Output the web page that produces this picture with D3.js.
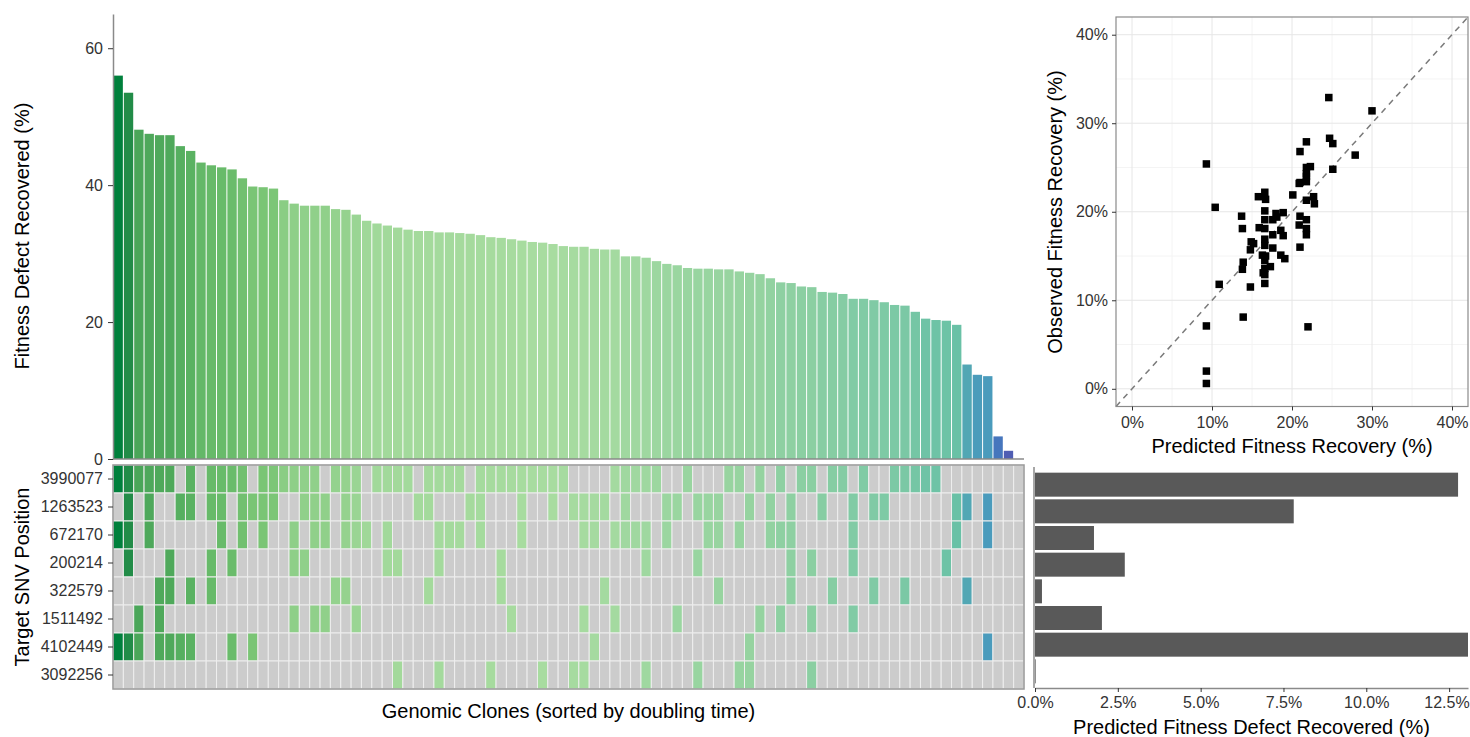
<!DOCTYPE html>
<html>
<head>
<meta charset="utf-8">
<script src="https://cdn.jsdelivr.net/npm/d3@7"></script>
<style>
body { margin: 0; background: #fff; }
text { font-family: "Liberation Sans", Arial, Helvetica, sans-serif; }
</style>
</head>
<body>
<svg id="chart" width="1470" height="737"></svg>
<script>
// fitness defect recovered per genomic clone, sorted by doubling time (last clone has no bar)
var recovered = [56.0, 53.5, 48.1, 47.5, 47.3, 47.3, 45.7, 45.0, 43.3, 42.9,
    42.6, 42.3, 41.0, 39.8, 39.7, 39.5, 37.8, 37.3, 37.0, 37.0,
    37.0, 36.5, 36.4, 35.7, 34.8, 34.4, 34.1, 33.8, 33.5, 33.3,
    33.3, 33.1, 33.1, 33.0, 32.9, 32.7, 32.4, 32.3, 32.1, 31.9,
    31.7, 31.6, 31.4, 31.1, 31.0, 31.0, 30.7, 30.6, 30.6, 29.6,
    29.6, 29.4, 28.9, 28.5, 28.3, 27.9, 27.8, 27.8, 27.7, 27.7,
    27.4, 27.2, 27.0, 26.4, 25.8, 25.7, 25.2, 25.1, 24.4, 24.3,
    24.1, 23.4, 23.4, 23.2, 22.9, 22.5, 22.4, 21.5, 20.5, 20.3,
    20.2, 19.6, 13.8, 12.3, 12.1, 3.3, 1.2, 0];

var snvPositions = ['3990077', '1263523', '672170', '200214', '322579', '1511492', '4102449', '3092256'];

// clones (0-based column index) carrying each SNV, same order as snvPositions
var snvHits = [
    [0,1,2,3,4,5,7,9,10,11,12,14,15,16,17,18,19,21,22,23,25,26,27,28,30,31,32,33,35,36,37,38,39,40,41,42,43,48,49,50,51,52,55,59,60,62,64,66,67,69,70,72,75,76,77,78,79],
    [1,3,6,7,9,10,12,13,14,15,18,19,20,22,23,29,30,34,35,39,42,44,45,46,47,49,53,54,56,57,58,61,63,65,68,71,73,74,81,82,84],
    [0,1,3,10,12,14,17,19,20,22,23,24,26,31,32,33,35,39,45,46,48,49,50,51,53,57,58,60,63,64,65,71,81,84],
    [1,5,9,11,17,18,26,27,31,37,51,56,65,67,71,80],
    [4,5,7,9,21,22,30,37,47,58,65,69,73,76,82],
    [2,4,17,19,20,23,38,45,48,54,62,64,67,71],
    [0,1,2,4,5,6,7,11,13,46,61,84],
    [27,31,36,41,44,45,51,56,60,61,67]
];

var snvPredicted = [12.77, 7.81, 1.78, 2.71, 0.21, 2.02, 13.07, 0.02];

var predictedRecovery = [24.6, 30.0, 21.8, 21.0, 24.7, 25.1, 27.9, 9.3, 21.8, 22.3,
    25.1, 21.8, 20.9, 21.8, 20.1, 15.8, 16.6, 16.7, 10.4, 21.8,
    22.7, 22.8, 13.7, 13.8, 16.6, 16.6, 18.0, 18.9, 17.6, 21.0,
    20.9, 21.8, 21.8, 15.9, 16.6, 18.6, 17.6, 18.9, 21.8, 14.9,
    15.2, 16.6, 16.6, 14.8, 17.6, 21.0, 16.3, 18.6, 19.1, 16.6,
    13.9, 17.3, 13.8, 16.6, 16.6, 16.6, 10.9, 14.8, 13.9, 9.3,
    22.0, 9.3, 9.3, 16.7, 16.4, 18.1, 21.8, 21.0];
var observedRecovery = [32.9, 31.4, 27.9, 26.8, 28.3, 27.7, 26.4, 25.4, 25.0, 25.1,
    24.8, 24.0, 23.2, 23.4, 21.9, 21.7, 22.2, 21.4, 20.5, 21.3,
    21.7, 20.9, 19.5, 18.1, 20.1, 19.1, 19.8, 19.9, 19.1, 19.5,
    18.5, 19.1, 18.1, 18.2, 18.1, 17.9, 17.4, 17.3, 17.4, 16.6,
    16.4, 16.9, 16.2, 15.7, 15.9, 16.0, 15.1, 15.1, 14.7, 14.5,
    14.3, 13.8, 13.5, 13.6, 12.9, 11.9, 11.8, 11.5, 8.1, 7.1,
    7.0, 2.0, 0.6, 15.0, 13.1, 19.4, 24.3, 23.3];

var recoveredTicks = [0, 20, 40, 60];
var scatterTicks = [0, 10, 20, 30, 40];
var scatterMinor = [5, 15, 25, 35];
var snvTicks = [0, 2.5, 5, 7.5, 10, 12.5];

var colorStops = [1.2, 3.3, 12.1, 13.8, 19.6, 23, 27, 31.5, 35, 40, 45, 48, 53.5, 56];
var colorRange = ['#4f5db3', '#4676bd', '#4a9bbc', '#52a7b4', '#69c1a6', '#7fcaa5', '#95d3a0', '#a8dca0',
    '#a0d899', '#78c473', '#5ab262', '#4ba659', '#228c48', '#00803c'];

var svg = d3.select('#chart');
var tickColor = '#333';
var axisColor = '#8a8a8a';

var clones = d3.range(recovered.length);
var x = d3.scaleBand().domain(clones).range([113, 1024]);
var y = d3.scaleLinear().domain([0, 65]).range([459, 14]);
var color = d3.scaleLinear().domain(colorStops).range(colorRange).clamp(true);

function styleAxis(g) {
    g.selectAll('text').style('font-size', '16px').attr('fill', tickColor);
    g.selectAll('line').attr('stroke', '#333');
    g.select('.domain').attr('stroke', axisColor).attr('stroke-width', 1.5);
}

// ---- top bar chart
svg.append('g').selectAll('rect')
    .data(clones.filter(function(i) { return recovered[i] > 0; }))
    .enter().append('rect')
    .attr('x', function(i) { return x(i) + 0.5; })
    .attr('width', x.bandwidth() - 1)
    .attr('y', function(i) { return y(recovered[i]); })
    .attr('height', function(i) { return y(0) - y(recovered[i]); })
    .attr('fill', function(i) { return color(recovered[i]); });

svg.append('g').attr('transform', 'translate(113,0)')
    .call(d3.axisLeft(y).tickValues(recoveredTicks).tickSize(5).tickSizeOuter(0).tickPadding(5))
    .call(styleAxis);
svg.append('line').attr('x1', 113).attr('x2', 1024).attr('y1', y(0)).attr('y2', y(0))
    .attr('stroke', axisColor).attr('stroke-width', 1.5);

svg.append('text').attr('transform', 'translate(29,236) rotate(-90)')
    .attr('text-anchor', 'middle').style('font-size', '20px').text('Fitness Defect Recovered (%)');

// ---- heatmap
var rowY = d3.scaleBand().domain(snvPositions).range([465, 689]);
var cells = [];
snvPositions.forEach(function(p, r) {
    clones.forEach(function(i) {
        cells.push({ snv: p, clone: i, hit: snvHits[r].indexOf(i) >= 0 });
    });
});
svg.append('g').selectAll('rect').data(cells).enter().append('rect')
    .attr('x', function(d) { return x(d.clone); })
    .attr('y', function(d) { return rowY(d.snv); })
    .attr('width', x.bandwidth())
    .attr('height', rowY.bandwidth())
    .attr('fill', function(d) { return d.hit ? color(recovered[d.clone]) : '#cccccc'; })
    .attr('stroke', '#eeeeee').attr('stroke-width', 1);
svg.append('rect').attr('x', 113).attr('y', 465).attr('width', 911).attr('height', 224)
    .attr('fill', 'none').attr('stroke', '#999').attr('stroke-width', 1.5);
svg.append('g').attr('transform', 'translate(113,0)')
    .call(d3.axisLeft(rowY).tickSize(5).tickSizeOuter(0).tickPadding(5))
    .call(styleAxis)
    .call(function(g) { g.select('.domain').remove(); });

svg.append('text').attr('transform', 'translate(29,577) rotate(-90)')
    .attr('text-anchor', 'middle').style('font-size', '20px').text('Target SNV Position');
svg.append('text').attr('x', 568.5).attr('y', 718)
    .attr('text-anchor', 'middle').style('font-size', '20px').text('Genomic Clones (sorted by doubling time)');

// ---- per-SNV predicted bars
var sx = d3.scaleLinear().domain([0, 13.07]).range([1035, 1468]);
var sy = d3.scaleBand().domain(snvPositions).range([470, 686]).padding(0.1);
svg.append('g').selectAll('rect').data(snvPositions).enter().append('rect')
    .attr('x', sx(0))
    .attr('y', function(d) { return sy(d); })
    .attr('height', sy.bandwidth())
    .attr('width', function(d, i) { return sx(snvPredicted[i]) - sx(0); })
    .attr('fill', '#595959');
svg.append('line').attr('x1', 1034).attr('x2', 1034).attr('y1', 467).attr('y2', 688)
    .attr('stroke', axisColor).attr('stroke-width', 1.5);
svg.append('g').attr('transform', 'translate(0,688)')
    .call(d3.axisBottom(sx).tickValues(snvTicks).tickSize(4).tickSizeOuter(0).tickPadding(5)
        .tickFormat(function(d) { return d.toFixed(1) + '%'; }))
    .call(styleAxis)
    .call(function(g) {
        // keep the last label inside the page
        g.selectAll('text').filter(function(d) { return d === 12.5; })
            .attr('text-anchor', 'end').attr('dx', '20px');
    });
svg.append('text').attr('x', 1251.5).attr('y', 734)
    .attr('text-anchor', 'middle').style('font-size', '20px').text('Predicted Fitness Defect Recovered (%)');

// ---- scatter: predicted vs observed
var px = d3.scaleLinear().domain([-2, 42]).range([1116, 1468]);
var py = d3.scaleLinear().domain([-2, 42]).range([406.5, 17]);
var sc = svg.append('g');
sc.append('rect').attr('x', 1116).attr('y', 17).attr('width', 352).attr('height', 389.5).attr('fill', '#fff');
sc.selectAll('.minx').data(scatterMinor).enter().append('line')
    .attr('x1', px).attr('x2', px).attr('y1', 17).attr('y2', 406.5).attr('stroke', '#f4f4f4');
sc.selectAll('.miny').data(scatterMinor).enter().append('line')
    .attr('y1', py).attr('y2', py).attr('x1', 1116).attr('x2', 1468).attr('stroke', '#f4f4f4');
sc.selectAll('.majx').data(scatterTicks).enter().append('line')
    .attr('x1', px).attr('x2', px).attr('y1', 17).attr('y2', 406.5).attr('stroke', '#e6e6e6');
sc.selectAll('.majy').data(scatterTicks).enter().append('line')
    .attr('y1', py).attr('y2', py).attr('x1', 1116).attr('x2', 1468).attr('stroke', '#e6e6e6');
sc.append('line').attr('x1', px(-2)).attr('y1', py(-2)).attr('x2', px(42)).attr('y2', py(42))
    .attr('stroke', '#7a7a7a').attr('stroke-width', 1.5).attr('stroke-dasharray', '6,5');
sc.selectAll('.pt').data(predictedRecovery).enter().append('rect')
    .attr('x', function(d) { return px(d) - 3.75; })
    .attr('y', function(d, i) { return py(observedRecovery[i]) - 3.75; })
    .attr('width', 7.5).attr('height', 7.5).attr('fill', '#000');
sc.append('rect').attr('x', 1116).attr('y', 17).attr('width', 352).attr('height', 389.5)
    .attr('fill', 'none').attr('stroke', '#8a8a8a').attr('stroke-width', 1.2);
svg.append('g').attr('transform', 'translate(1116,0)')
    .call(d3.axisLeft(py).tickValues(scatterTicks).tickSize(4).tickPadding(4)
        .tickFormat(function(d) { return d + '%'; }))
    .call(styleAxis)
    .call(function(g) { g.select('.domain').remove(); });
svg.append('g').attr('transform', 'translate(0,406.5)')
    .call(d3.axisBottom(px).tickValues(scatterTicks).tickSize(4).tickPadding(6)
        .tickFormat(function(d) { return d + '%'; }))
    .call(styleAxis)
    .call(function(g) { g.select('.domain').remove(); });
svg.append('text').attr('x', 1292).attr('y', 453)
    .attr('text-anchor', 'middle').style('font-size', '20px').text('Predicted Fitness Recovery (%)');
svg.append('text').attr('transform', 'translate(1062,212) rotate(-90)')
    .attr('text-anchor', 'middle').style('font-size', '20px').text('Observed Fitness Recovery (%)');
</script>
</body>
</html>
